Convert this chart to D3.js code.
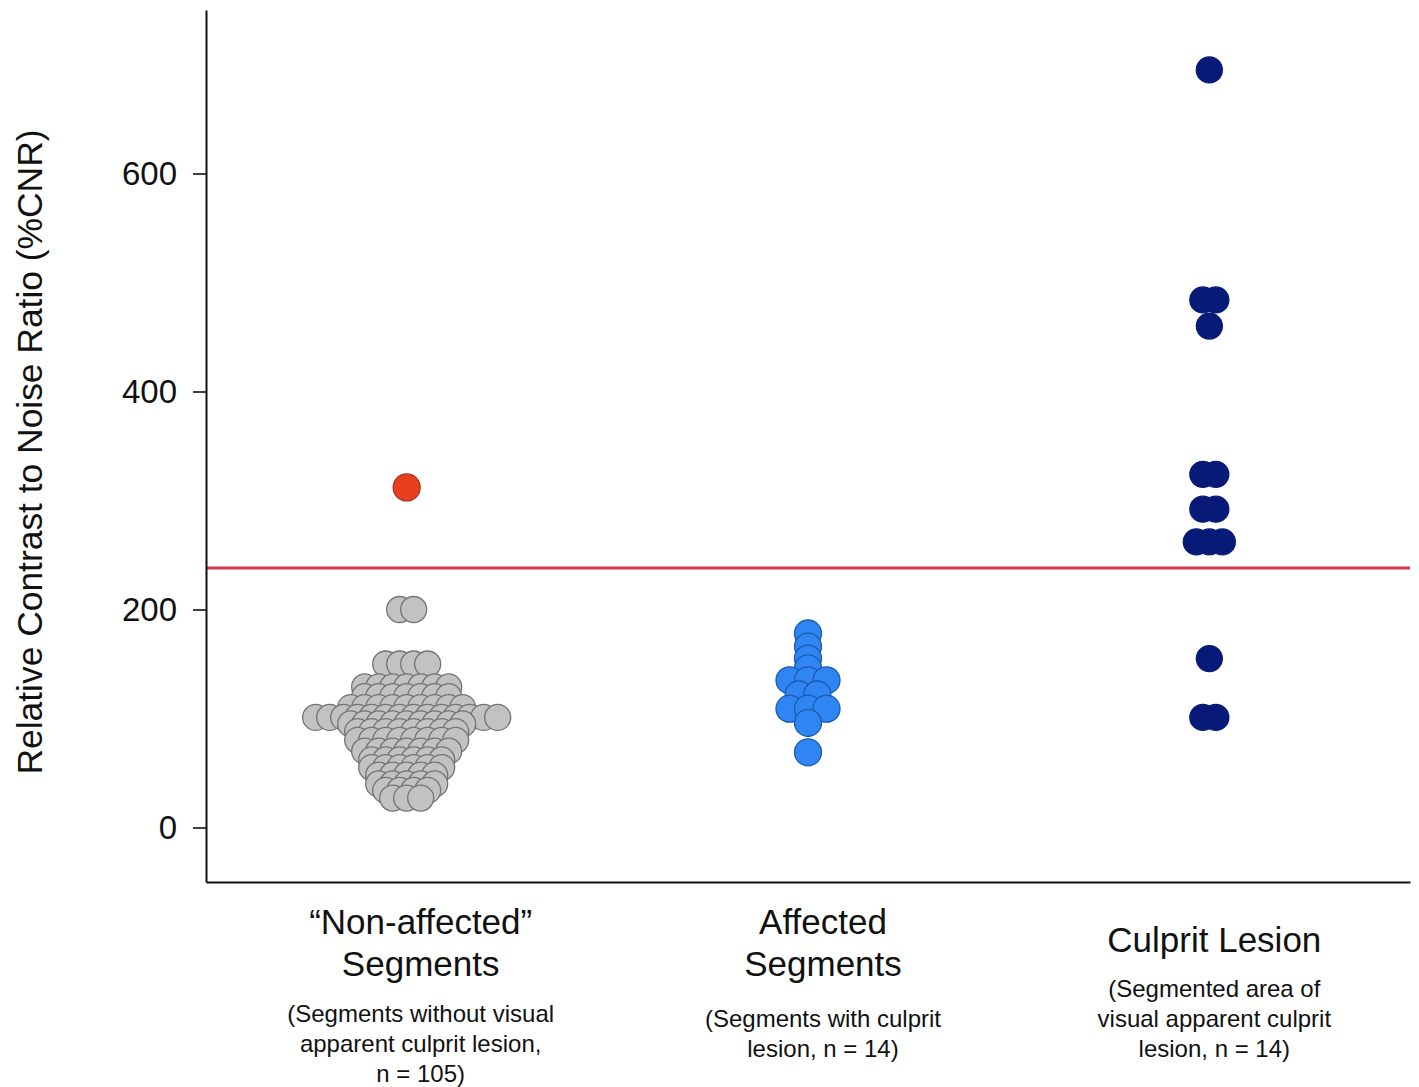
<!DOCTYPE html>
<html>
<head>
<meta charset="utf-8">
<script src="https://cdn.jsdelivr.net/npm/d3@7"></script>
<style>
  body { margin: 0; background: #fff; }
  svg text { font-family: "Liberation Sans", Arial, Helvetica, sans-serif; fill: #111; }
</style>
</head>
<body>
<svg id="chart" width="1419" height="1087"></svg>
<script>
// categories and their labels
var categories = ['nonaffected', 'affected', 'culprit'];
var titleLines = [
  ['\u201CNon-affected\u201D', 'Segments'],
  ['Affected', 'Segments'],
  ['Culprit Lesion']
];
var noteLines = [
  ['(Segments without visual', 'apparent culprit lesion,', 'n = 105)'],
  ['(Segments with culprit', 'lesion, n = 14)'],
  ['(Segmented area of', 'visual apparent culprit', 'lesion, n = 14)']
];

// %CNR values
var nonAffected = [
  200, 200,
  150, 150, 150, 150,
  129, 129, 129, 129, 129, 129, 129,
  120, 120, 120, 120, 120, 120, 120,
  110, 110, 110, 110, 110, 110, 110, 110, 110,
  101, 101, 101, 101, 101, 101, 101, 101, 101, 101, 101, 101, 101, 101,
  95, 95, 95, 95, 95, 95, 95, 95, 95,
  88, 88, 88, 88, 88, 88, 88, 88,
  80, 80, 80, 80, 80, 80, 80, 80,
  70, 70, 70, 70, 70, 70, 70,
  62, 62, 62, 62, 62, 62,
  55, 55, 55, 55, 55, 55,
  48, 48, 48, 48, 48,
  40, 40, 40, 40, 40,
  34, 34, 34, 34,
  27, 27, 27
];
var nonAffectedOutlier = [312];
var affected = [178, 166, 155, 146, 135, 135, 135, 122, 122, 109, 109, 109, 96, 69];
var culprit = [695, 484, 484, 460, 324, 324, 292, 292, 262, 262, 262, 155, 101, 101];

var threshold = 238;
var yTicks = [0, 200, 400, 600];
var yLabel = 'Relative Contrast to Noise Ratio (%CNR)';

var svg = d3.select('#chart');
var margin = {top: 10, right: 9, bottom: 205, left: 206};
var width = +svg.attr('width'), height = +svg.attr('height');

var x = d3.scaleBand()
  .domain(categories)
  .range([margin.left, width - margin.right]);
var y = d3.scaleLinear()
  .domain([-50, 750])
  .range([height - margin.bottom, margin.top]);

// spread equal values sideways, like a dot plot
var swarm = function(vals, cat, step) {
  var out = [];
  var groups = d3.groups(vals, function(v) { return v; });
  groups.forEach(function(g) {
    var n = g[1].length;
    g[1].forEach(function(v, i) {
      out.push({val: v, cx: x(cat) + x.bandwidth() / 2 + (i - (n - 1) / 2) * step});
    });
  });
  out.sort(function(a, b) { return b.val - a.val || a.cx - b.cx; });
  return out;
};

var series = [
  {pts: swarm(nonAffected, 'nonaffected', 14), fill: '#c2c2c2', stroke: '#747474', r: 13},
  {pts: swarm(nonAffectedOutlier, 'nonaffected', 14), fill: '#ea3f1f', stroke: '#a8321c', r: 13.5},
  {pts: swarm(affected, 'affected', 18.5), fill: '#2f86f2', stroke: '#1b5bb0', r: 13.5},
  {pts: swarm(culprit, 'culprit', 13), fill: '#071a78', stroke: '#071a78', r: 13}
];

// threshold line
svg.append('line')
  .attr('x1', margin.left).attr('x2', width - margin.right)
  .attr('y1', y(threshold)).attr('y2', y(threshold))
  .attr('stroke', '#d9384b')
  .attr('stroke-width', 3);

series.forEach(function(s) {
  svg.append('g').selectAll('circle')
    .data(s.pts)
    .enter().append('circle')
    .attr('cx', function(d) { return d.cx; })
    .attr('cy', function(d) { return y(d.val); })
    .attr('r', s.r)
    .attr('fill', s.fill)
    .attr('stroke', s.stroke)
    .attr('stroke-width', 1.3);
});

// axes
var yAxis = svg.append('g')
  .attr('transform', 'translate(' + margin.left + ',0)')
  .call(d3.axisLeft(y).tickValues(yTicks).tickSize(13).tickSizeOuter(0).tickPadding(16));
yAxis.attr('font-family', null);
yAxis.select('.domain').attr('stroke', '#111').attr('stroke-width', 2);
yAxis.selectAll('.tick line').attr('stroke', '#111').attr('stroke-width', 1.6);
yAxis.selectAll('.tick text').attr('font-size', 33).style('fill', '#111');

var xAxis = svg.append('g')
  .attr('transform', 'translate(0,' + (height - margin.bottom) + ')')
  .call(d3.axisBottom(x).tickValues([]).tickSizeOuter(0));
xAxis.select('.domain').attr('stroke', '#111').attr('stroke-width', 2);

svg.append('text')
  .attr('transform', 'translate(42,452) rotate(-90)')
  .attr('text-anchor', 'middle')
  .attr('font-size', 35)
  .attr('textLength', 645)
  .attr('lengthAdjust', 'spacingAndGlyphs')
  .text(yLabel);

// category labels
var titleTop = [934, 934, 952];
var noteTop = [1022, 1027, 997];
var labelShift = [14, 15, 5];
categories.forEach(function(c, i) {
  var cx = x(c) + x.bandwidth() / 2 + labelShift[i];
  var t = svg.append('text').attr('text-anchor', 'middle').attr('font-size', 35);
  titleLines[i].forEach(function(line, j) {
    t.append('tspan').attr('x', cx).attr('y', titleTop[i] + j * 42).text(line);
  });
  var n = svg.append('text').attr('text-anchor', 'middle').attr('font-size', 24);
  noteLines[i].forEach(function(line, j) {
    n.append('tspan').attr('x', cx).attr('y', noteTop[i] + j * 30).text(line);
  });
});
</script>
</body>
</html>
